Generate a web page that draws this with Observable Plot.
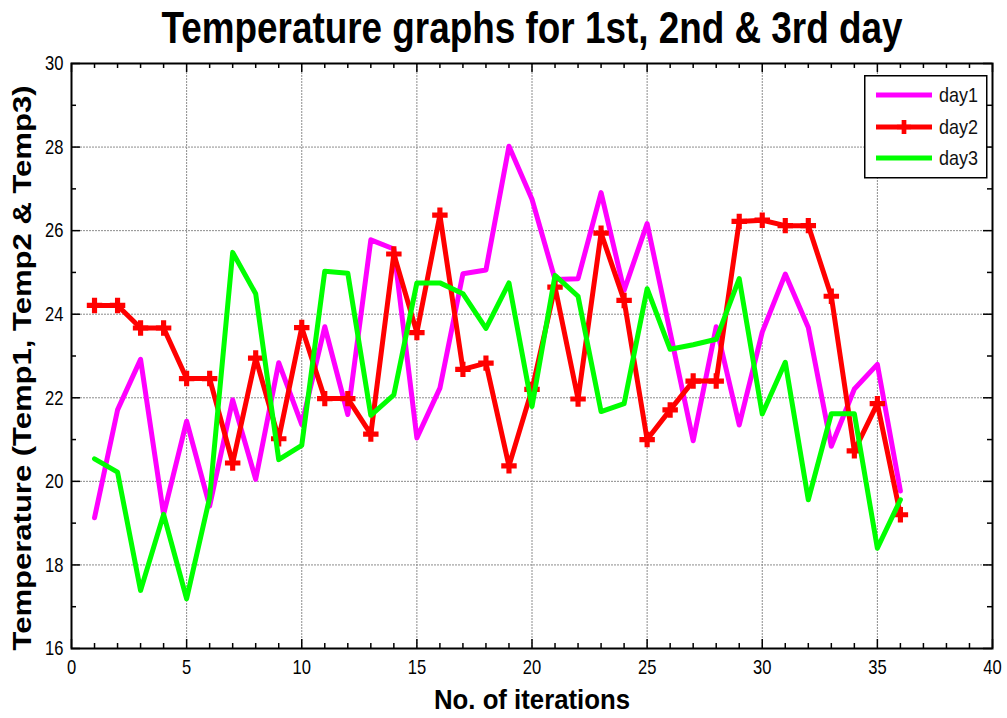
<!DOCTYPE html>
<html>
<head>
<meta charset="utf-8">
<script src="https://cdn.jsdelivr.net/npm/d3@7"></script>
<script src="https://cdn.jsdelivr.net/npm/@observablehq/plot@0.6"></script>
<style>
  html, body { margin: 0; padding: 0; background: #fff; }
  #wrap { position: relative; width: 1007px; height: 718px; }
  #legend { position: absolute; left: 864px; top: 75px; }
</style>
</head>
<body>
<div id="wrap"></div>
<script>
const iterations = [1,2,3,4,5,6,7,8,9,10,11,12,13,14,15,16,17,18,19,20,21,22,23,24,25,26,27,28,29,30,31,32,33,34,35,36];
const day1 = [19.13,21.71,22.92,19.21,21.44,19.41,21.95,20.05,22.84,21.36,23.70,21.60,25.78,25.56,21.04,22.23,24.97,25.06,28.02,26.75,24.83,24.85,26.91,24.57,26.17,23.57,20.97,23.70,21.35,23.57,24.96,23.68,20.84,22.21,22.80,19.77];
const day2 = [24.21,24.21,23.67,23.67,22.46,22.46,20.44,22.95,21.02,23.68,21.98,21.98,21.13,25.44,23.56,26.37,22.68,22.83,20.37,22.20,24.65,21.97,25.94,24.33,21.00,21.71,22.40,22.40,26.22,26.25,26.12,26.12,24.43,20.73,21.86,19.20];
const day3 = [20.54,20.22,17.39,19.21,17.19,19.61,25.48,24.49,20.52,20.86,25.03,24.98,21.58,22.07,24.75,24.75,24.49,23.66,24.75,21.79,24.93,24.43,21.67,21.86,24.61,23.16,23.27,23.40,24.85,21.61,22.85,19.56,21.62,21.62,18.40,19.56];
const seriesNames = ["day1", "day2", "day3"];
const seriesColors = ["#ff00ff", "#ff0000", "#00ff00"];
const xMajor = [0,5,10,15,20,25,30,35,40];
const xMinor = [1,2,3,4,6,7,8,9,11,12,13,14,16,17,18,19,21,22,23,24,26,27,28,29,31,32,33,34,36,37,38,39];
const yMajor = [16,18,20,22,24,26,28,30];
const yMinor = [17,19,21,23,25,27,29];
const titleText = "Temperature graphs for 1st, 2nd & 3rd day";
const xLabel = "No. of iterations";
const yLabel = "Temperature (Temp1, Temp2 & Temp3)";

const W = 1007, H = 718;
const mL = 71, mR = 15, mT = 63, mB = 70;
const fw = W - mL - mR, fh = H - mT - mB;

const toRows = (vals, name) => iterations.map((it, i) => ({it, v: vals[i], name}));
const rows1 = toRows(day1, "day1"), rows2 = toRows(day2, "day2"), rows3 = toRows(day3, "day3");

const sans = "'Liberation Sans', Arial, sans-serif";

const chart = Plot.plot({
  width: W, height: H,
  marginLeft: mL, marginRight: mR, marginTop: mT, marginBottom: mB,
  style: {fontFamily: sans, fontSize: "21px", color: "#000", background: "#fff"},
  x: {domain: [0, 40], ticks: xMajor, tickSize: 0, tickPadding: 11, label: null, tickFormat: d => String(d)},
  y: {domain: [16, 30], ticks: yMajor, tickSize: 0, tickPadding: 8, label: null, tickFormat: d => String(d)},
  marks: [
    // grid
    Plot.ruleX(xMajor.slice(1, -1), {x: d => d, stroke: "#8c8c8c", strokeWidth: 1, strokeDasharray: "2,1"}),
    Plot.ruleY(yMajor.slice(1, -1), {y: d => d, stroke: "#8c8c8c", strokeWidth: 1, strokeDasharray: "2,1"}),
    // inward ticks
    Plot.ruleX(xMajor, {x: d => d, insetTop: fh - 9, stroke: "#000", strokeWidth: 1.5}),
    Plot.ruleX(xMajor, {x: d => d, insetBottom: fh - 9, stroke: "#000", strokeWidth: 1.5}),
    Plot.ruleX(xMinor, {x: d => d, insetTop: fh - 5, stroke: "#000", strokeWidth: 1.5}),
    Plot.ruleX(xMinor, {x: d => d, insetBottom: fh - 5, stroke: "#000", strokeWidth: 1.5}),
    Plot.ruleY(yMajor, {y: d => d, insetRight: fw - 9, stroke: "#000", strokeWidth: 1.5}),
    Plot.ruleY(yMajor, {y: d => d, insetLeft: fw - 9, stroke: "#000", strokeWidth: 1.5}),
    Plot.ruleY(yMinor, {y: d => d, insetRight: fw - 5, stroke: "#000", strokeWidth: 1.5}),
    Plot.ruleY(yMinor, {y: d => d, insetLeft: fw - 5, stroke: "#000", strokeWidth: 1.5}),
    // series
    Plot.line(rows1, {x: "it", y: "v", stroke: seriesColors[0], strokeWidth: 5}),
    Plot.line(rows2, {x: "it", y: "v", stroke: seriesColors[1], strokeWidth: 5}),
    Plot.dot(rows2, {x: "it", y: "v", symbol: "cross", r: 6.5, fill: seriesColors[1], stroke: "none"}),
    Plot.line(rows3, {x: "it", y: "v", stroke: seriesColors[2], strokeWidth: 5}),
    Plot.frame({stroke: "#000", strokeWidth: 2}),
    // titles
    Plot.text([titleText], {frameAnchor: "top", dy: -35, lineAnchor: "middle", textAnchor: "middle", fontSize: 45, fontWeight: "bold", fill: "#000"}),
    Plot.text([xLabel], {frameAnchor: "bottom", dy: 52, lineAnchor: "middle", textAnchor: "middle", fontSize: 28, fontWeight: "bold", fill: "#000"}),
    Plot.text([yLabel], {frameAnchor: "left", dx: -49, dy: 12, rotate: -90, lineAnchor: "middle", textAnchor: "middle", fontSize: 25, fontWeight: "bold", fill: "#000"})
  ]
});
const wrap = document.getElementById("wrap");
wrap.appendChild(chart);

// condense texts to match the narrow face of the original
const fit = {[titleText]: 741, [xLabel]: 196, [yLabel]: 565};
d3.select(chart).selectAll("text").each(function () {
  const t = this.textContent;
  if (fit[t]) {
    this.setAttribute("textLength", fit[t]);
    this.setAttribute("lengthAdjust", "spacingAndGlyphs");
  } else if (/^\d+$/.test(t)) {
    this.setAttribute("font-size", 21);
    this.style.fontSize = "21px";
    this.setAttribute("textLength", t.length * 9.2);
    this.setAttribute("lengthAdjust", "spacingAndGlyphs");
  }
});

// legend
const lg = d3.create("svg").attr("id", "legend").attr("width", 124).attr("height", 104)
  .style("font-family", sans);
lg.append("rect").attr("x", 0.75).attr("y", 0.75).attr("width", 122).attr("height", 102)
  .attr("fill", "#fff").attr("stroke", "#000").attr("stroke-width", 1.5);
const rowY = [20, 52, 83];
seriesNames.forEach((name, i) => {
  lg.append("line").attr("x1", 12).attr("x2", 68).attr("y1", rowY[i]).attr("y2", rowY[i])
    .attr("stroke", seriesColors[i]).attr("stroke-width", 5);
  if (i === 1) {
    lg.append("path").attr("d", d3.symbol(d3.symbolCross, 110)())
      .attr("transform", `translate(40,${rowY[i]})`).attr("fill", seriesColors[i]);
  }
  lg.append("text").attr("x", 75).attr("y", rowY[i] + 7).attr("font-size", 21)
    .attr("textLength", 39).attr("lengthAdjust", "spacingAndGlyphs").attr("fill", "#111").text(name);
});
wrap.appendChild(lg.node());
</script>
</body>
</html>
